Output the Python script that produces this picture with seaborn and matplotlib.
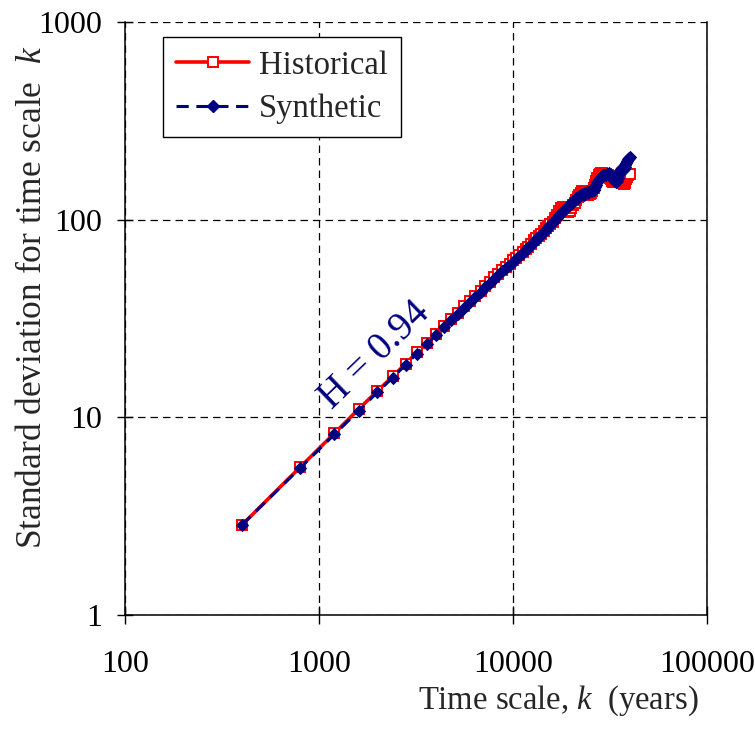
import matplotlib
matplotlib.use("Agg")
import matplotlib.pyplot as plt
import seaborn as sns
import pandas as pd
from matplotlib.lines import Line2D
from matplotlib.ticker import FixedLocator, FixedFormatter, NullLocator

# Aggregation time scales (years)
time_scale = list(range(400, 40001, 400))

# Standard deviation of the aggregated series, historical record
historical = [
    2.85, 5.6, 8.3, 11.0, 13.6, 16.1, 18.7, 21.3, 23.8, 26.3,
    28.9, 31.4, 33.9, 36.4, 38.8, 41.2, 43.6, 46.0, 48.5, 51.0,
    53.2, 55.5, 57.8, 60.0, 62.2, 64.3, 66.6, 69.0, 71.0, 73.0,
    75.5, 78.5, 81.0, 83.0, 85.0, 87.5, 90.5, 93.0, 95.0, 97.5,
    102, 106, 110, 114, 116, 113, 110, 109, 111, 114,
    118, 122, 126, 130, 134, 137, 139, 138, 136, 134,
    133, 135, 137, 140, 145, 150, 156, 162, 168, 171,
    172, 172, 171, 171, 170, 169, 168, 166, 163, 160,
    157, 155, 155, 155, 156, 158, 160, 161, 160, 157,
    154, 153, 152, 154, 157, 161, 165, 168, 170, 171,
]

# Standard deviation of the aggregated series, synthetic record
synthetic = [
    2.85, 5.55, 8.19, 10.8, 13.4, 15.9, 18.5, 21.0, 23.5, 26.0,
    28.5, 31.0, 33.4, 35.9, 38.3, 40.7, 43.1, 45.5, 47.9, 50.2,
    52.6, 54.9, 57.2, 59.3, 61.4, 63.6, 65.8, 68.0, 70.3, 72.5,
    74.8, 77.2, 79.6, 82.0, 84.3, 86.6, 89.0, 91.6, 94.2, 97.0,
    99.5, 102, 105, 108, 110, 112, 115, 117, 119, 122,
    124, 126, 128, 129, 131, 133, 135, 134, 136, 138,
    137, 139, 141, 140, 142, 146, 150, 155, 159, 163,
    165, 167, 168, 169, 168, 170, 171, 172, 170, 167,
    164, 161, 158, 156, 155, 157, 163, 170, 176, 180,
    182, 178, 180, 185, 190, 194, 198, 203, 206, 208,
]

x_ticks = [100, 1000, 10000, 100000]
x_tick_labels = ["100", "1000", "10000", "100000"]
y_ticks = [1, 10, 100, 1000]
y_tick_labels = ["1", "10", "100", "1000"]

series_names = ["Historical", "Synthetic"]
hurst_label = "H = 0.94"

df = pd.DataFrame({"k": time_scale, "Historical": historical, "Synthetic": synthetic})

sns.set_style("white")
FONT = "Liberation Serif"
plt.rcParams["font.family"] = [FONT, "DejaVu Serif"]
plt.rcParams["mathtext.fontset"] = "custom"
plt.rcParams["mathtext.rm"] = FONT
plt.rcParams["mathtext.it"] = FONT + ":italic"

FS_TICK = 23
FS_LEG = 23.5
RED = "#ff0000"
NAVY = "#000080"

fig = plt.figure(figsize=(7.55, 7.33), dpi=100)
ax = fig.add_axes([125 / 755, 1 - 615 / 733, 582 / 755, 593 / 733])

sns.lineplot(data=df, x="k", y="Historical", ax=ax, color=RED, linewidth=2.6,
             marker="s", markersize=7.5, markerfacecolor="white",
             markeredgecolor=RED, markeredgewidth=1.4, zorder=3)
sns.lineplot(data=df, x="k", y="Synthetic", ax=ax, color=NAVY, linewidth=2.2,
             linestyle=(0, (4, 2.5)), marker="D", markersize=6,
             markerfacecolor=NAVY, markeredgecolor=NAVY, zorder=4)

ax.set_xscale("log")
ax.set_yscale("log")
ax.set_xlim(100, 100000)
ax.set_ylim(1, 1000)

ax.xaxis.set_major_locator(FixedLocator(x_ticks))
ax.xaxis.set_major_formatter(FixedFormatter(x_tick_labels))
ax.yaxis.set_major_locator(FixedLocator(y_ticks))
ax.yaxis.set_major_formatter(FixedFormatter(y_tick_labels))
ax.xaxis.set_minor_locator(NullLocator())
ax.yaxis.set_minor_locator(NullLocator())

ax.grid(True, which="major", color="black", linestyle=(0, (6, 4)), linewidth=0.9)
ax.set_axisbelow(True)

for side in ("left", "bottom", "right"):
    ax.spines[side].set_visible(True)
    ax.spines[side].set_color("black")
    ax.spines[side].set_linewidth(1.1)
ax.spines["top"].set_visible(False)

ax.tick_params(axis="x", which="major", direction="inout", length=13, width=1.0,
               pad=19, labelsize=FS_TICK, colors="black", bottom=True)
ax.tick_params(axis="y", which="major", direction="inout", length=11, width=1.0,
               pad=11, labelsize=FS_TICK, colors="black", left=True, right=False)

ax.set_xlabel("Time scale, $k$  (years)", fontsize=23.5)
ax.set_ylabel("Standard deviation for time scale  $k$", fontsize=25.5)
ax.xaxis.set_label_coords(0.745, -0.116)
ax.yaxis.set_label_coords(-0.13, 0.535)

ax.text(1950, 20.5, hurst_label, rotation=44, ha="center", va="center",
        rotation_mode="anchor", fontsize=28, color=NAVY)

handles = [
    Line2D([], [], color=RED, linewidth=2.6, marker="s", markersize=7.5,
           markerfacecolor="white", markeredgecolor=RED, markeredgewidth=1.4),
    Line2D([], [], color=NAVY, linewidth=2.2, linestyle=(0, (4, 2.5)), marker="D",
           markersize=6, markerfacecolor=NAVY, markeredgecolor=NAVY),
]
leg = ax.legend(handles, series_names, loc="upper left",
                bbox_to_anchor=(38 / 582, (615 - 37) / 593), fontsize=FS_LEG,
                frameon=True, fancybox=False, edgecolor="black", framealpha=1,
                handlelength=2.25, handletextpad=0.3, borderpad=0.4,
                labelspacing=0.4, numpoints=1, borderaxespad=0)
leg.get_frame().set_linewidth(1.0)

fig.savefig("out.png", dpi=100)
